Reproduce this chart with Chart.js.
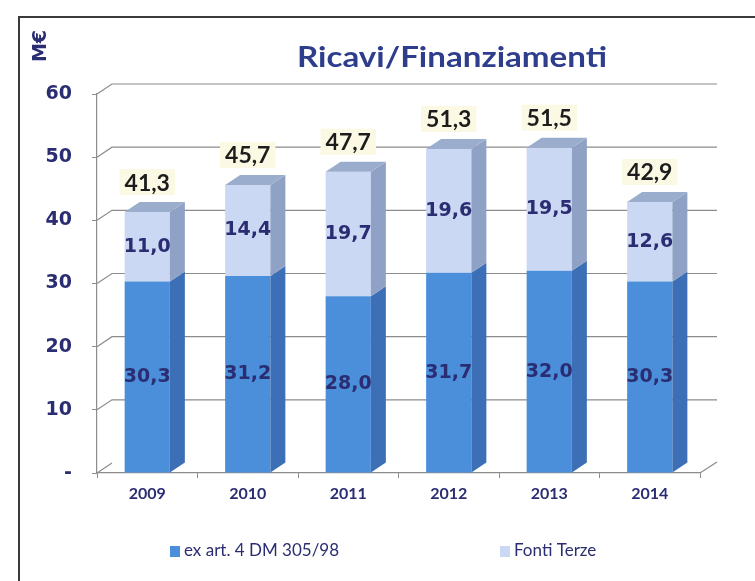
<!DOCTYPE html>
<html>
<head>
<meta charset="utf-8">
<script src="https://cdn.jsdelivr.net/npm/chart.js@4"></script>
<style>
  html, body { margin: 0; padding: 0; background: #fff; }
  #wrap { position: relative; width: 755px; height: 581px; overflow: hidden; }
  #frame { position: absolute; left: 18px; top: 16px; width: 800px; height: 700px;
           border-left: 2px solid #3a3a3a; border-top: 2px solid #3a3a3a; }
  canvas { position: absolute; left: 0; top: 0; }
</style>
</head>
<body>
<div id="wrap">
  <div id="frame"></div>
  <canvas id="resultChart" width="755" height="581"></canvas>
</div>
<script>
const years = ['2009', '2010', '2011', '2012', '2013', '2014'];
const exArt = [30.3, 31.2, 28.0, 31.7, 32.0, 30.3];
const fontiTerze = [11.0, 14.4, 19.7, 19.6, 19.5, 12.6];
const totals = [41.3, 45.7, 47.7, 51.3, 51.5, 42.9];
const yTickValues = [0, 10, 20, 30, 40, 50, 60];

const navy = '#2b2d72';
const depthX = 15;
const depthY = 10;
const sideColors = ['#3c6fb5', '#8fa2c6'];
const topColor = '#9badcc';

function fmt(v) {
    return v.toFixed(1).replace('.', ',');
}

// back wall grid lines with a small perspective offset
const grid3d = {
    id: 'grid3d',
    beforeDatasetsDraw(chart) {
        const ctx = chart.ctx;
        const area = chart.chartArea;
        const yScale = chart.scales.y;
        ctx.save();
        ctx.strokeStyle = '#8c8c8c';
        ctx.lineWidth = 1.2;
        yTickValues.forEach(v => {
            const y = yScale.getPixelForValue(v);
            ctx.beginPath();
            ctx.moveTo(area.left, y);
            ctx.lineTo(area.left + depthX, y - depthY);
            if (v > 0) {
                ctx.lineTo(area.right + depthX + 2, y - depthY);
            }
            ctx.stroke();
        });
        const y0 = yScale.getPixelForValue(0);
        ctx.beginPath();
        ctx.moveTo(area.right, y0);
        ctx.lineTo(area.right + depthX + 2, y0 - depthY - 1);
        ctx.stroke();
        ctx.restore();
    }
};

// side and top faces of the bars, then the value labels
const bars3d = {
    id: 'bars3d',
    afterDatasetsDraw(chart) {
        const ctx = chart.ctx;
        const n = chart.data.labels.length;
        const last = chart.data.datasets.length - 1;
        ctx.save();
        for (let i = 0; i < n; i++) {
            chart.data.datasets.forEach((ds, d) => {
                const el = chart.getDatasetMeta(d).data[i];
                const p = el.getProps(['x', 'y', 'base', 'width'], true);
                const xr = p.x + p.width / 2;
                const xl = p.x - p.width / 2;
                ctx.fillStyle = sideColors[d];
                ctx.beginPath();
                ctx.moveTo(xr, p.base);
                ctx.lineTo(xr + depthX, p.base - depthY);
                ctx.lineTo(xr + depthX, p.y - depthY);
                ctx.lineTo(xr, p.y);
                ctx.closePath();
                ctx.fill();
                if (d === last) {
                    ctx.fillStyle = topColor;
                    ctx.beginPath();
                    ctx.moveTo(xl, p.y);
                    ctx.lineTo(xl + depthX, p.y - depthY);
                    ctx.lineTo(xr + depthX, p.y - depthY);
                    ctx.lineTo(xr, p.y);
                    ctx.closePath();
                    ctx.fill();
                }
            });
        }

        ctx.textAlign = 'center';
        ctx.textBaseline = 'middle';
        for (let i = 0; i < n; i++) {
            chart.data.datasets.forEach((ds, d) => {
                const el = chart.getDatasetMeta(d).data[i];
                const p = el.getProps(['x', 'y', 'base'], true);
                ctx.font = 'bold 19px "DejaVu Sans"';
                ctx.fillStyle = navy;
                ctx.fillText(fmt(ds.data[i]), p.x, (p.y + p.base) / 2);
            });
            const topEl = chart.getDatasetMeta(last).data[i];
            const tp = topEl.getProps(['x', 'y'], true);
            const ty = tp.y - 30;
            ctx.font = 'bold 23px Lato';
            const txt = fmt(totals[i]);
            const w = ctx.measureText(txt).width;
            ctx.fillStyle = '#fbf9e3';
            ctx.fillRect(tp.x - w / 2 - 5, ty - 13, w + 10, 26);
            ctx.fillStyle = '#1c1c1c';
            ctx.fillText(txt, tp.x, ty + 1);
        }
        ctx.restore();
    }
};

// title, unit label and legend
const decorations = {
    id: 'decorations',
    afterDraw(chart) {
        const ctx = chart.ctx;
        ctx.save();
        ctx.textAlign = 'center';
        ctx.textBaseline = 'middle';
        ctx.fillStyle = '#2e3d8c';
        ctx.font = 'bold 28px Lato';
        const title = 'Ricavi/Finanziamenti';
        const sx = 310 / ctx.measureText(title).width;
        ctx.translate(452, 58);
        ctx.scale(sx, 1);
        ctx.fillText(title, 0, 0);
        ctx.restore();

        ctx.save();
        ctx.textAlign = 'center';
        ctx.textBaseline = 'middle';
        ctx.translate(41, 46);
        ctx.rotate(-Math.PI / 2);
        ctx.fillStyle = navy;
        ctx.font = 'bold 19px "DejaVu Sans"';
        ctx.fillText('M€', 0, 0);
        ctx.restore();

        ctx.save();
        ctx.textAlign = 'left';
        ctx.textBaseline = 'middle';
        ctx.font = '17px Lato';
        const legendX = [170, 500];
        chart.data.datasets.forEach((ds, d) => {
            ctx.fillStyle = ds.backgroundColor;
            ctx.fillRect(legendX[d], 546, 10, 11);
            ctx.fillStyle = navy;
            ctx.fillText(ds.label, legendX[d] + 14, 551);
        });
        ctx.restore();
    }
};

const ctx = document.getElementById('resultChart').getContext('2d');
new Chart(ctx, {
    type: 'bar',
    data: {
        labels: years,
        datasets: [{
            label: 'ex art. 4 DM 305/98',
            data: exArt,
            backgroundColor: '#4b8fdb',
            barPercentage: 0.45,
            categoryPercentage: 1
        }, {
            label: 'Fonti Terze',
            data: fontiTerze,
            backgroundColor: '#cad8f3',
            barPercentage: 0.45,
            categoryPercentage: 1
        }]
    },
    options: {
        responsive: false,
        animation: false,
        devicePixelRatio: 1,
        layout: { padding: { left: 0, top: 94, right: 55, bottom: 0 } },
        plugins: {
            legend: { display: false },
            title: { display: false },
            tooltip: { enabled: false }
        },
        scales: {
            x: {
                stacked: true,
                grid: { drawOnChartArea: false, tickLength: 5, color: '#8c8c8c' },
                border: { color: '#8c8c8c', width: 1.2 },
                ticks: { color: navy, padding: 6, font: { family: 'Lato', weight: 'bold', size: 16 } },
                afterFit(scale) { scale.height = 108; }
            },
            y: {
                stacked: true,
                min: 0,
                max: 60,
                ticks: {
                    stepSize: 10,
                    color: navy,
                    padding: 20,
                    font: { family: 'DejaVu Sans', weight: 'bold', size: 19 },
                    callback: v => v === 0 ? '-' : v
                },
                grid: { drawOnChartArea: false, tickLength: 5, color: '#8c8c8c' },
                border: { color: '#8c8c8c', width: 1.2 },
                afterFit(scale) { scale.width = 97; }
            }
        }
    },
    plugins: [grid3d, bars3d, decorations]
});
</script>
</body>
</html>
